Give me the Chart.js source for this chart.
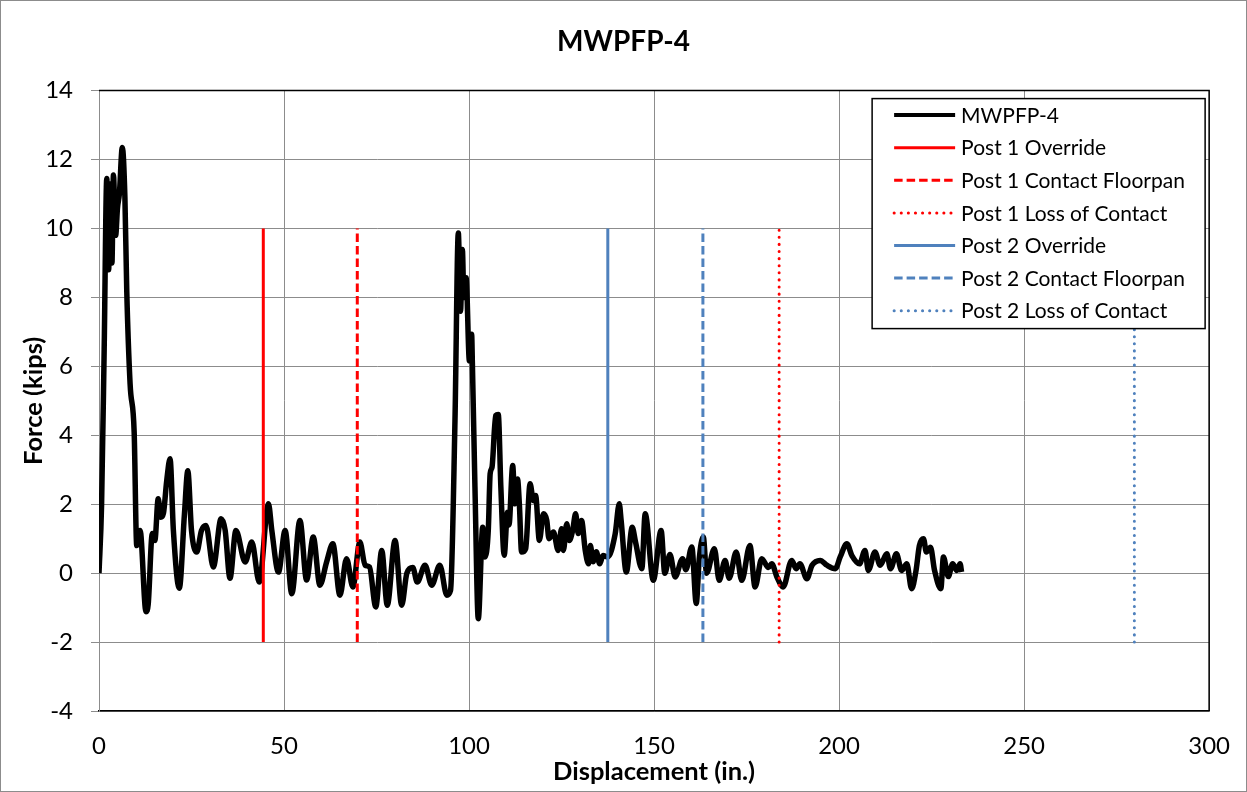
<!DOCTYPE html>
<html>
<head>
<meta charset="utf-8">
<title>MWPFP-4</title>
<script src="https://cdn.jsdelivr.net/npm/chart.js@4.4.1/dist/chart.umd.min.js"></script>
<style>
  html, body { margin: 0; padding: 0; background: #fff; }
  canvas { display: block; }
</style>
</head>
<body>
<canvas id="mwpfp-chart" width="1247" height="792"></canvas>
<script>
// force vs. displacement trace, MWPFP-4
const displacement = [
    0, 0.7, 1.4, 2.1, 2.6, 3.1, 3.5, 3.9, 4.5, 5.0, 5.5, 6.3, 7.0, 7.5, 8.4, 9.5,
    10.2, 10.6, 11.1, 12.7, 13.3, 14.4, 15.1, 16.0, 16.7, 17.4, 18.3, 19.2, 20.1, 21.7,
    23.1, 24.0, 25.0, 26.4, 27.7, 28.9, 30.9, 33.0, 34.1, 35.4, 37.0, 39.5, 41.3, 43.3,
    45.8, 46.7, 48.5, 50.3, 52.1, 54.3, 56.1, 57.9, 59.7, 61.5, 63.2, 65.1, 66.9, 68.6,
    70.5, 71.9, 73.1, 74.8, 76.4, 77.9, 80.0, 81.8, 83.2, 84.8, 86.0, 88.1, 89.9, 92.1,
    94.0, 95.0, 96.2, 97.1, 97.7, 98.2, 98.6, 99.2, 100.1, 100.7, 100.9, 101.6, 102.5,
    103.7, 104.3, 105.2, 105.7, 106.2, 107.2, 107.9, 108.6, 109.5, 110.4, 110.8, 111.8,
    112.4, 113.1, 113.6, 114.2, 115.3, 116.5, 117.4, 118.0, 119.0, 120.1, 121.0, 121.6,
    122.8, 124.1, 125.0, 125.5, 126.4, 127.1, 128.0, 128.8, 129.5, 130.4, 131.4, 132.3,
    132.8, 133.5, 134.4, 135.3, 136.2, 137.5, 139.5, 140.6, 141.1, 142.5, 144.1, 145.0,
    146.7, 147.6, 149.8, 151.9, 152.9, 154.3, 155.7, 157.7, 158.6, 160.2, 161.4, 162.2,
    163.3, 164.2, 166.3, 167.6, 169.2, 170.3, 172.2, 173.7, 175.9, 177.3, 179.1, 180.9,
    181.8, 183.2, 184.9, 187.2, 188.4, 189.4, 191.3, 192.7, 194.9, 196.7, 199.0, 200.3,
    202.1, 203.5, 205.5, 207.0, 207.9, 209.7, 211.1, 212.9, 213.9, 215.5, 216.9, 218.3,
    219.6, 220.8, 221.7, 222.8, 223.6, 224.7, 225.8, 227.5, 228.2, 229.5, 230.7, 231.8,
    232.7, 233.1
];
const force = [
    0, 2.0, 6.5, 11.45, 8.8, 11.3, 9.0, 11.55, 9.8, 10.6, 11.0, 12.35, 10.9, 8.2, 5.5, 4.1,
    0.8, 1.2, 1.24, -1.12, -0.9, 1.15, 0.95, 2.16, 1.62, 1.73, 2.68, 3.32, 1.24, -0.44,
    1.73, 2.97, 1.24, 0.61, 1.24, 1.38, 0.18, 1.58, 1.24, -0.15, 1.24, 0.32, 0.9, -0.26,
    2.01, 1.24, 0.03, 1.24, -0.6, 1.53, -0.2, 1.05, -0.35, 0.32, 0.85, -0.64, 0.42, -0.4,
    0.9, 0.23, 0.18, -0.98, 0.66, -0.93, 0.95, -0.93, 0.0, 0.16, -0.26, 0.23, -0.35, 0.23,
    -0.64, -0.5, 4.42, 9.87, 7.6, 9.39, 8.0, 8.57, 6.16, 6.93, 6.1, 2.49, -1.32,
    1.33, 0.47, 1.24, 2.88, 3.07, 4.57, 4.6, 2.49, 0.52, 1.77, 1.4, 3.12,
    2.01, 2.73, 2.0, 0.61, 0.71, 2.59, 2.1, 2.25, 0.95, 1.72, 1.53, 1.0,
    1.19, 0.66, 1.29, 0.66, 1.43, 0.95, 1.24, 1.72, 1.15, 1.53, 0.66, 0.27,
    0.8, 0.33, 0.62, 0.27, 0.51, 0.47, 1.14, 2.01, 1.53, 0.03, 1.33, 0.9,
    0.13, 1.72, -0.21, 1.24, 0.0, 0.54, -0.11, 0.42, 0.1, 0.76, -0.88, 0.4,
    1.05, 0.0, 0.71, -0.21, 0.37, -0.15, 0.61, -0.21, 0.8, -0.4, 0.42, 0.16,
    0.27, -0.11, -0.4, 0.37, 0.13, 0.27, -0.16, 0.23, 0.37, 0.23, 0.13, 0.47,
    0.85, 0.5, 0.27, 0.66, 0.08, 0.61, 0.23, 0.56, 0.13, 0.56, 0.08, 0.27,
    -0.45, 0.08, 0.8, 1.0, 0.61, 0.75, 0.08, -0.45, 0.47, -0.1, 0.27, 0.08,
    0.27, 0.03
];

// post events along the displacement axis
const eventNames = [
    'Post 1 Override', 'Post 1 Contact Floorpan', 'Post 1 Loss of Contact',
    'Post 2 Override', 'Post 2 Contact Floorpan', 'Post 2 Loss of Contact'
];
const eventDisplacement = [44.4, 69.8, 183.8, 137.5, 163.2, 279.8];
const eventForceSpan = [-2, 10];

const RED = '#ff0000';
const BLUE = '#4f81bd';
const eventStyles = [
    { color: RED,  dash: [] },
    { color: RED,  dash: [8.5, 4] },
    { color: RED,  dash: [0.1, 7], cap: 'round' },
    { color: BLUE, dash: [] },
    { color: BLUE, dash: [8.5, 4] },
    { color: BLUE, dash: [0.1, 7], cap: 'round' }
];

const FONT = 'Lato, "Liberation Sans", sans-serif';
const GRID = '#8c8c8c';

const datasets = [{
    label: 'MWPFP-4',
    data: displacement.map((x, i) => ({ x: x, y: force[i] })),
    borderColor: '#000',
    borderWidth: 5.5,
    pointRadius: 0,
    cubicInterpolationMode: 'monotone',
    borderJoinStyle: 'round',
    order: 10
}];

eventNames.forEach((name, i) => {
    const st = eventStyles[i];
    datasets.push({
        label: name,
        data: eventForceSpan.map(y => ({ x: eventDisplacement[i], y: y })),
        borderColor: st.color,
        borderWidth: 3,
        borderDash: st.dash,
        borderCapStyle: st.cap || 'butt',
        pointRadius: 0,
        order: 1
    });
});

// white page with a thin grey frame
const pageFrame = {
    id: 'pageFrame',
    beforeDraw(chart) {
        const ctx = chart.ctx;
        ctx.save();
        ctx.fillStyle = '#fff';
        ctx.fillRect(0, 0, chart.width, chart.height);
        ctx.strokeStyle = '#8c8c8c';
        ctx.lineWidth = 1;
        ctx.strokeRect(0.5, 0.5, chart.width - 1, chart.height - 1);
        ctx.restore();
    }
};

// black top and right edges of the plot area
const plotFrame = {
    id: 'plotFrame',
    beforeDatasetsDraw(chart) {
        const { ctx, chartArea: a } = chart;
        ctx.save();
        ctx.strokeStyle = '#000';
        ctx.lineWidth = 1.5;
        ctx.beginPath();
        ctx.moveTo(a.left, a.top);
        ctx.lineTo(a.right, a.top);
        ctx.lineTo(a.right, a.bottom);
        ctx.stroke();
        ctx.restore();
    }
};

// boxed legend in the upper right corner of the plot
const boxLegend = {
    id: 'boxLegend',
    afterDatasetsDraw(chart) {
        const ctx = chart.ctx;
        const a = chart.chartArea;
        const box = { x: a.right - 337, y: a.top + 8, w: 333, h: 230 };
        const rowH = 32.6;
        ctx.save();
        ctx.fillStyle = '#fff';
        ctx.fillRect(box.x, box.y, box.w, box.h);
        ctx.strokeStyle = '#000';
        ctx.lineWidth = 1.5;
        ctx.strokeRect(box.x, box.y, box.w, box.h);
        ctx.font = '21px ' + FONT;
        ctx.textBaseline = 'middle';
        ctx.fillStyle = '#000';
        chart.data.datasets.forEach((ds, i) => {
            const y = box.y + 16.5 + i * rowH;
            ctx.save();
            ctx.strokeStyle = ds.borderColor;
            ctx.lineWidth = Math.min(ds.borderWidth, 4);
            ctx.setLineDash(ds.borderDash || []);
            ctx.lineCap = ds.borderCapStyle || 'butt';
            ctx.beginPath();
            ctx.moveTo(box.x + 22, y);
            ctx.lineTo(box.x + 83, y);
            ctx.stroke();
            ctx.restore();
            ctx.fillText(ds.label, box.x + 89, y + 1);
        });
        ctx.restore();
    }
};

const ctx = document.getElementById('mwpfp-chart').getContext('2d');

new Chart(ctx, {
    type: 'line',
    data: { datasets: datasets },
    options: {
        responsive: false,
        animation: false,
        devicePixelRatio: 1,
        layout: { padding: 0 },
        scales: {
            x: {
                type: 'linear',
                min: 0,
                max: 300,
                ticks: {
                    stepSize: 50,
                    color: '#000',
                    padding: 17,
                    font: { family: FONT, size: 24 }
                },
                grid: { color: GRID, lineWidth: 1, drawTicks: true, tickLength: 4, tickColor: 'rgba(0,0,0,0)' },
                border: { color: '#000', width: 1.5 },
                title: {
                    display: true,
                    text: 'Displacement (in.)',
                    color: '#000',
                    font: { family: FONT, size: 25.5, weight: 'bold' },
                    padding: { top: 0, bottom: 5 }
                },
                afterFit(scale) { scale.height = 81; }
            },
            y: {
                min: -4,
                max: 14,
                ticks: {
                    stepSize: 2,
                    color: '#000',
                    padding: 18,
                    font: { family: FONT, size: 24 }
                },
                grid: { color: GRID, lineWidth: 1, tickLength: 8, tickColor: GRID },
                border: { color: GRID, width: 1 },
                title: {
                    display: true,
                    text: 'Force (kips)',
                    color: '#000',
                    font: { family: FONT, size: 25.5, weight: 'bold' },
                    padding: { top: 18, bottom: 0 }
                },
                afterFit(scale) { scale.width = 99; }
            }
        },
        plugins: {
            legend: { display: false },
            tooltip: { enabled: false },
            title: {
                display: true,
                text: 'MWPFP-4',
                color: '#000',
                font: { family: FONT, size: 28, weight: 'bold' },
                padding: { top: 25, bottom: 32 }
            }
        }
    },
    plugins: [pageFrame, plotFrame, boxLegend]
});
</script>
</body>
</html>
